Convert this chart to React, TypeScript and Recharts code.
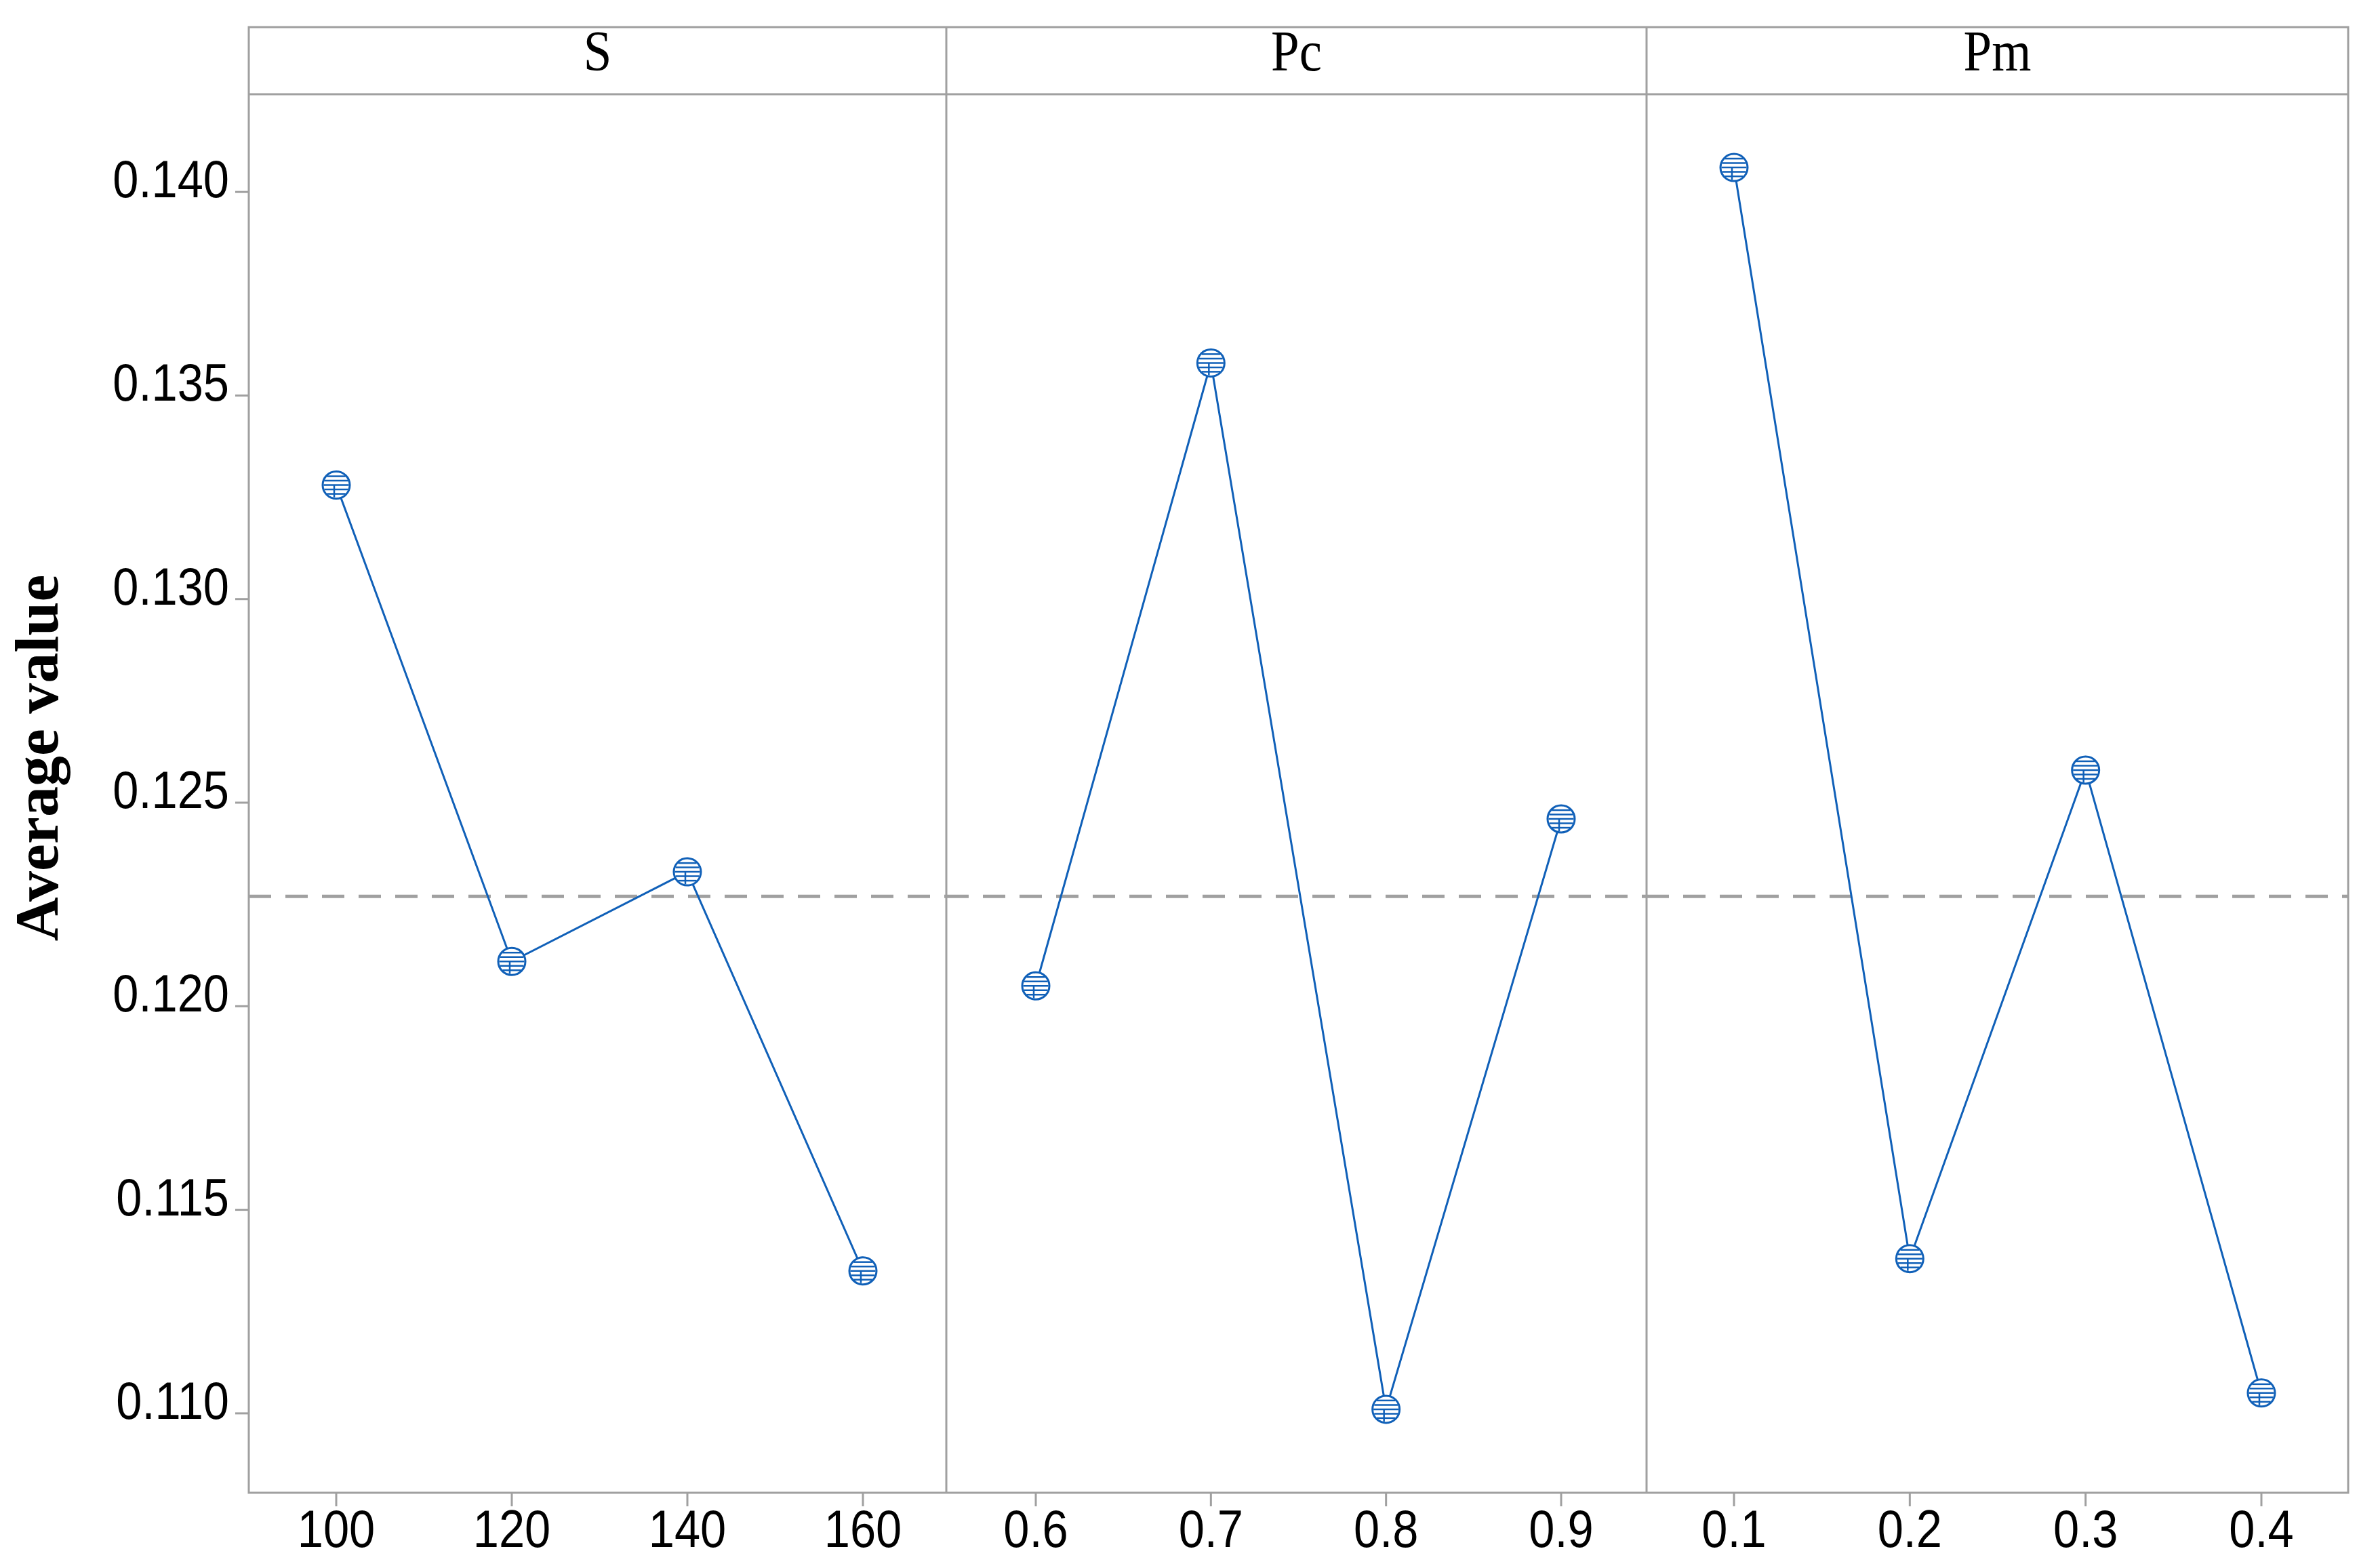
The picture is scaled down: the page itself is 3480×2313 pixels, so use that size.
import React from "react";
import { LineChart, Line, XAxis, YAxis, ReferenceLine } from "recharts";

// factor levels and their mean responses
const sLevels = ["100", "120", "140", "160"];
const sMeans = [0.1328, 0.1211, 0.1233, 0.1135];

const pcLevels = ["0.6", "0.7", "0.8", "0.9"];
const pcMeans = [0.1205, 0.1358, 0.1101, 0.1246];

const pmLevels = ["0.1", "0.2", "0.3", "0.4"];
const pmMeans = [0.1406, 0.1138, 0.1258, 0.1105];

const panelTitles = ["S", "Pc", "Pm"];
const yTicks = [0.11, 0.115, 0.12, 0.125, 0.13, 0.135, 0.14];
const yDomain = [0.10805, 0.1424];

const allMeans = [...sMeans, ...pcMeans, ...pmMeans];
const grandMean = allMeans.reduce((a, b) => a + b, 0) / allMeans.length;

const toRows = (levels: string[], means: number[]) =>
  levels.map((level, i) => ({ level, value: means[i] }));

const GRAY = "#a0a0a0";
const BLUE = "#1060b8";
const SANS = "'Liberation Sans', Arial, sans-serif";
const SERIF = "'Liberation Serif', 'Times New Roman', serif";

// frame geometry (page pixels)
const plotLeft = 367;
const plotRight = 3464;
const headerTop = 40;
const plotTop = 139;
const plotBottom = 2202;
const dividers = [1396, 2429];

function YTick(props: any) {
  const { x, y, payload } = props;
  return (
    <text
      transform={`translate(${x - 9},${y + 8}) scale(0.88,1)`}
      textAnchor="end"
      fontFamily={SANS}
      fontSize={78}
      fill="#000"
    >
      {Number(payload.value).toFixed(3)}
    </text>
  );
}

function XTick(props: any) {
  const { x, y, payload } = props;
  return (
    <text
      transform={`translate(${x},${y + 60}) scale(0.88,1)`}
      textAnchor="middle"
      fontFamily={SANS}
      fontSize={78}
      fill="#000"
    >
      {payload.value}
    </text>
  );
}

function MarkerDot(props: any) {
  const { cx, cy, index } = props;
  if (cx == null || cy == null) return null;
  const r = 20;
  const offsets = [-13, -6.5, 0, 6.5, 13];
  return (
    <g key={`dot-${index}`}>
      <circle cx={cx} cy={cy} r={r} fill="#fff" stroke={BLUE} strokeWidth={3} />
      {offsets.map((d) => {
        const h = Math.sqrt(r * r - d * d) - 1.5;
        return (
          <line
            key={d}
            x1={cx - h}
            x2={cx + h}
            y1={cy + d}
            y2={cy + d}
            stroke={BLUE}
            strokeWidth={2.5}
          />
        );
      })}
      <line x1={cx - 3} x2={cx - 3} y1={cy} y2={cy + r - 2} stroke={BLUE} strokeWidth={2.5} />
    </g>
  );
}

function Panel(props: {
  rows: { level: string; value: number }[];
  left: number;
  width: number;
  showY: boolean;
  pad: { left: number; right: number };
}) {
  const { rows, left, width, showY, pad } = props;
  const yWidth = showY ? plotLeft - left : 0;
  return (
    <div style={{ position: "absolute", left, top: plotTop }}>
      <LineChart
        width={width}
        height={2313 - plotTop}
        data={rows}
        margin={{ top: 0, right: 0, bottom: 0, left: 0 }}
      >
        <XAxis
          dataKey="level"
          type="category"
          interval={0}
          height={2313 - plotBottom}
          padding={pad}
          axisLine={false}
          tickSize={20}
          tickMargin={0}
          tickLine={{ stroke: GRAY, strokeWidth: 3 }}
          tick={<XTick />}
        />
        <YAxis
          type="number"
          domain={yDomain}
          ticks={yTicks}
          allowDataOverflow
          hide={!showY}
          width={yWidth}
          axisLine={false}
          tickSize={20}
          tickMargin={0}
          tickLine={{ stroke: GRAY, strokeWidth: 3 }}
          tick={<YTick />}
        />
        <ReferenceLine
          y={grandMean}
          stroke={GRAY}
          strokeWidth={5}
          strokeDasharray="33 21"
        />
        <Line
          type="linear"
          dataKey="value"
          stroke={BLUE}
          strokeWidth={3}
          dot={MarkerDot}
          activeDot={false}
          isAnimationActive={false}
        />
      </LineChart>
    </div>
  );
}

export default function App() {
  const edges = [plotLeft, ...dividers, plotRight];
  return (
    <div style={{ position: "absolute", left: 0, top: 0, width: 3480, height: 2313, background: "#fff" }}>
      <svg
        width={3480}
        height={2313}
        style={{ position: "absolute", left: 0, top: 0 }}
      >
        <rect
          x={plotLeft}
          y={headerTop}
          width={plotRight - plotLeft}
          height={plotBottom - headerTop}
          fill="none"
          stroke={GRAY}
          strokeWidth={3}
        />
        <line x1={plotLeft} x2={plotRight} y1={plotTop} y2={plotTop} stroke={GRAY} strokeWidth={3} />
        {dividers.map((d) => (
          <line key={d} x1={d} x2={d} y1={headerTop} y2={plotBottom} stroke={GRAY} strokeWidth={3} />
        ))}
        {panelTitles.map((t, i) => (
          <text
            key={t}
            transform={`translate(${(edges[i] + edges[i + 1]) / 2},104) scale(0.88,1)`}
            textAnchor="middle"
            fontFamily={SERIF}
            fontSize={85}
            fill="#000"
          >
            {t}
          </text>
        ))}
        <text
          transform="translate(85,1118) rotate(-90)"
          textAnchor="middle"
          fontFamily={SERIF}
          fontWeight="bold"
          fontSize={90}
          fill="#000"
        >
          Average value
        </text>
      </svg>
      <Panel
        rows={toRows(sLevels, sMeans)}
        left={0}
        width={dividers[0]}
        showY
        pad={{ left: 129, right: 123 }}
      />
      <Panel
        rows={toRows(pcLevels, pcMeans)}
        left={dividers[0]}
        width={dividers[1] - dividers[0]}
        showY={false}
        pad={{ left: 132, right: 126 }}
      />
      <Panel
        rows={toRows(pmLevels, pmMeans)}
        left={dividers[1]}
        width={plotRight - dividers[1]}
        showY={false}
        pad={{ left: 129, right: 128 }}
      />
    </div>
  );
}
